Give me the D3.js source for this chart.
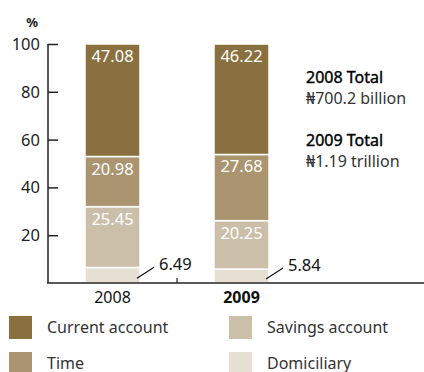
<!DOCTYPE html>
<html>
<head>
<meta charset="utf-8">
<script src="https://cdn.jsdelivr.net/npm/d3@7"></script>
<style>
  body { margin: 0; background: #fff; }
  svg { display: block; font-family: "Noto Sans", "DejaVu Sans", sans-serif; }
</style>
</head>
<body>
<div class="container"></div>
<script>
var years = ['2008', '2009'];
var series = ['Domiciliary', 'Savings account', 'Time', 'Current account'];
var domiciliary = [6.49, 5.84];
var savings = [25.45, 20.25];
var time = [20.98, 27.68];
var current = [47.08, 46.22];
var yTicks = [20, 40, 60, 80, 100];
var totals = [['2008 Total', '\u20A6700.2 billion'], ['2009 Total', '\u20A61.19 trillion']];
var legendOrder = ['Current account', 'Savings account', 'Time', 'Domiciliary'];

let colors = {
  'Current account': '#8a703e',
  'Time': '#ab9570',
  'Savings account': '#cbbfa9',
  'Domiciliary': '#e5dfd4'
};

let rows = years.map((y, i) => ({
  year: y,
  'Domiciliary': domiciliary[i],
  'Savings account': savings[i],
  'Time': time[i],
  'Current account': current[i]
}));

let width = 424, height = 372;

let svg = d3.select('.container')
            .append('svg')
            .attr('width', width)
            .attr('height', height);

let yScale = d3.scaleLinear()
                .domain([0, 100])
                .range([283, 44]);

let xScale = d3.scaleBand()
                .domain(years)
                .range([48, 306]);

let barW = 55;

let stacked = d3.stack().keys(series)(rows);

// bars
let layers = svg.selectAll('g.layer')
  .data(stacked)
  .enter()
  .append('g')
  .attr('class', 'layer')
  .attr('fill', d => colors[d.key]);

layers.selectAll('rect')
  .data(d => d)
  .enter()
  .append('rect')
  .attr('x', d => xScale(d.data.year) + xScale.bandwidth()/2 - barW/2)
  .attr('y', d => yScale(d[1]))
  .attr('width', barW)
  .attr('height', d => yScale(d[0]) - yScale(d[1]))
  .attr('stroke', '#fff')
  .attr('stroke-width', 1.5);

// white labels inside the top three segments
stacked.filter(s => s.key != 'Domiciliary').forEach(s => {
  svg.append('g')
    .selectAll('text')
    .data(s)
    .enter()
    .append('text')
    .attr('x', d => xScale(d.data.year) + xScale.bandwidth()/2)
    .attr('y', d => yScale(d[1]) + 18)
    .attr('text-anchor', 'middle')
    .attr('fill', '#fff')
    .style('font-size', '16.5px')
    .text(d => d.data[s.key].toFixed(2));
});

// callouts for domiciliary
let dom = stacked[0];
dom.forEach(d => {
  let bx = xScale(d.data.year) + xScale.bandwidth()/2 + barW/2;
  let by = yScale(d[1] / 2) + 3;
  svg.append('line')
    .attr('x1', bx - 3).attr('y1', by)
    .attr('x2', bx + 14).attr('y2', by - 11)
    .attr('stroke', '#111')
    .attr('stroke-width', 1.2);
  svg.append('text')
    .attr('x', bx + 19)
    .attr('y', by - 8)
    .attr('fill', '#111')
    .style('font-size', '16.5px')
    .text(d.data['Domiciliary'].toFixed(2));
});

// y axis
let yAxis = d3.axisRight(yScale)
              .tickValues(yTicks)
              .tickSize(10)
              .tickFormat('');

let yg = svg.append('g')
  .attr('transform', 'translate(48,0)')
  .call(yAxis);
yg.select('.domain').remove();
yg.selectAll('line').attr('stroke', '#222').attr('stroke-width', 1.5);

svg.append('line')
  .attr('x1', 48).attr('x2', 48)
  .attr('y1', yScale(100)).attr('y2', yScale(0))
  .attr('stroke', '#222').attr('stroke-width', 1.5);

svg.append('g')
  .selectAll('text')
  .data(yTicks)
  .enter()
  .append('text')
  .attr('x', 40)
  .attr('y', d => yScale(d) + 6)
  .attr('text-anchor', 'end')
  .attr('fill', '#222')
  .style('font-size', '16.5px')
  .text(d => d);

svg.append('text')
  .attr('x', 32)
  .attr('y', 27)
  .attr('text-anchor', 'middle')
  .attr('fill', '#222')
  .style('font-size', '13px')
  .style('font-weight', 'bold')
  .text('%');

// x axis baseline
svg.append('line')
  .attr('x1', 47).attr('x2', 424)
  .attr('y1', yScale(0)).attr('y2', yScale(0))
  .attr('stroke', '#222').attr('stroke-width', 1.5);

svg.append('line')
  .attr('x1', xScale('2009')).attr('x2', xScale('2009'))
  .attr('y1', yScale(0)).attr('y2', yScale(0) - 5)
  .attr('stroke', '#222').attr('stroke-width', 1.2);

svg.append('g')
  .selectAll('text')
  .data(years)
  .enter()
  .append('text')
  .attr('x', d => xScale(d) + xScale.bandwidth()/2)
  .attr('y', 303)
  .attr('text-anchor', 'middle')
  .attr('fill', '#111')
  .style('font-size', '16px')
  .style('font-weight', (d, i) => i == 1 ? 'bold' : 'normal')
  .text(d => d);

// totals
totals.forEach((t, i) => {
  svg.append('text')
    .attr('x', 306)
    .attr('y', 83 + i * 63)
    .attr('fill', '#000')
    .attr('stroke', '#000')
    .attr('stroke-width', 0.4)
    .style('font-size', '16px')
    .text(t[0]);
  svg.append('text')
    .attr('x', 306)
    .attr('y', 104 + i * 63)
    .attr('fill', '#333')
    .style('font-size', '16px')
    .text(t[1]);
});

// legend
let legend = svg.selectAll('g.legend')
  .data(legendOrder)
  .enter()
  .append('g')
  .attr('class', 'legend')
  .attr('transform', (d, i) => `translate(${i % 2 ? 229 : 9}, ${316 + Math.floor(i / 2) * 36})`);

legend.append('rect')
  .attr('width', 23)
  .attr('height', 23)
  .attr('fill', d => colors[d]);

legend.append('text')
  .attr('x', 38)
  .attr('y', 17)
  .attr('fill', '#333')
  .style('font-size', '16px')
  .text(d => d);
</script>
</body>
</html>
